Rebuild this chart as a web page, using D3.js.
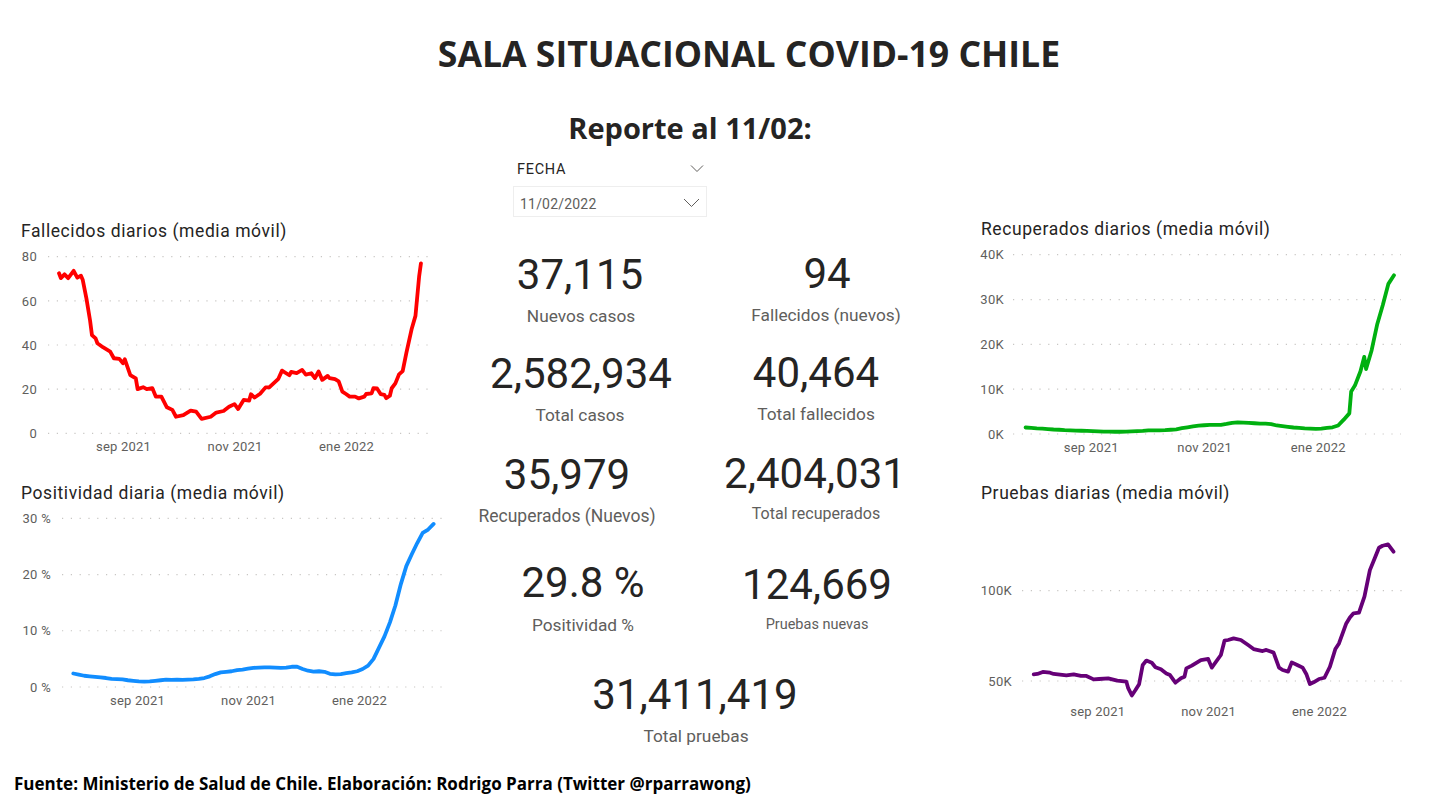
<!DOCTYPE html>
<html>
<head>
<meta charset="utf-8">
<style>
  html, body { margin: 0; background: #fff; }
  svg { display: block; }
  text { font-family: Roboto, sans-serif; }
</style>
<script src="https://cdn.jsdelivr.net/npm/d3@7"></script>
</head>
<body>
<div id="chart"></div>
<script>
// days since the first date of the series
const startDate = new Date(2021, 6, 28);
const dias = d3.range(0, 199, 3);
const monthTicks = [new Date(2021, 8, 1), new Date(2021, 10, 1), new Date(2022, 0, 1)];
const monthLabels = ["sep 2021", "nov 2021", "ene 2022"];

// jagged series keep their own (irregular) days
const diasFallecidos = [0, 1, 3, 5, 8, 10, 12, 13, 15, 17, 18, 20, 21, 24, 28, 30, 33, 35, 36, 39,
  42, 43, 46, 48, 51, 53, 56, 59, 62, 64, 68, 72, 75, 78, 83, 86, 90, 93, 96, 98,
  101, 104, 105, 107, 110, 113, 115, 120, 122, 126, 127, 130, 133, 135, 138, 140, 142, 144, 147, 148,
  151, 153, 155, 157, 159, 162, 164, 167, 168, 171, 172, 174, 176, 178, 179, 181, 182, 184, 186, 188,
  190, 193, 195, 197, 198];
const fallecidos = [72.5, 70.3, 72, 70.3, 73.6, 70.5, 71.4, 69.4, 61, 51, 44.5, 43, 40.8, 39, 37, 34, 33.7, 31.7, 33.5, 26.4,
  24.9, 20, 20.9, 20, 20.5, 16.6, 16.6, 11.8, 10.6, 7.5, 8.2, 10.3, 9.8, 6.5, 7.5, 9.4, 10.1, 12, 13.2, 11,
  15.1, 14.8, 17.7, 16.2, 17.9, 20.8, 20.8, 24.7, 28.4, 26.3, 27.8, 27.3, 28.7, 26.6, 27.2, 25, 28, 24.2, 26, 25,
  24.5, 23.5, 18.9, 17.8, 16.6, 16.6, 15.8, 16.6, 17.8, 18.1, 20.4, 20.3, 17.7, 17.4, 15.9, 17, 20.4, 22.6, 26.7, 28.2,
  36.3, 47.5, 53.2, 71, 77];

const positividad = [2.4, 2.2, 2, 1.9, 1.8, 1.7, 1.6, 1.45, 1.4, 1.35, 1.2, 1.1, 1, 0.95, 1, 1.1, 1.2, 1.3, 1.25, 1.3,
  1.25, 1.3, 1.35, 1.45, 1.6, 1.9, 2.3, 2.6, 2.7, 2.8, 3, 3.1, 3.25, 3.4, 3.45, 3.5, 3.5, 3.45, 3.4, 3.45,
  3.6, 3.6, 3.2, 2.9, 2.75, 2.8, 2.7, 2.35, 2.25, 2.3, 2.45, 2.6, 2.8, 3.2, 3.8, 5, 7, 9, 11.5, 14.5,
  18.3, 21.5, 23.6, 25.6, 27.4, 28, 29];

const diasRecuperados = d3.range(0, 175, 3).concat([175, 177, 180, 182, 183, 186, 189, 192, 195, 198]);
const recuperados = [1.45, 1.35, 1.25, 1.2, 1.1, 1, 0.95, 0.85, 0.8, 0.75, 0.72, 0.7, 0.65, 0.6, 0.55, 0.55, 0.5, 0.5, 0.55, 0.6,
  0.65, 0.7, 0.8, 0.8, 0.8, 0.85, 0.95, 1.05, 1.3, 1.5, 1.7, 1.85, 1.95, 2.05, 2.05, 2.05, 2.25, 2.5, 2.6, 2.55,
  2.5, 2.4, 2.3, 2.3, 2.2, 1.9, 1.75, 1.6, 1.45, 1.35, 1.25, 1.2, 1.15, 1.2, 1.35, 1.5, 1.9, 3.2, 4.6,
  9.5, 10.8, 14, 17.2, 14.5, 18.7, 24.5, 28.8, 33.5, 35.4].map(k => k * 1000);

const diasPruebas = [0, 2, 5, 9, 11, 18, 22, 26, 29, 33, 36, 41, 46, 51, 52, 54, 56, 58, 60, 62,
  65, 67, 70, 73, 75, 78, 81, 83, 84, 87, 92, 96, 98, 103, 105, 107, 110, 114, 118, 121,
  126, 128, 132, 135, 137, 140, 142, 145, 148, 150, 152, 154, 157, 160, 163, 166, 168, 172, 174, 176,
  179, 182, 185, 188, 190, 192, 195, 198];
const pruebas = [53.7, 53.9, 55, 54.6, 53.9, 53.1, 53.7, 52.8, 52.8, 50.9, 51.1, 51.5, 50.2, 49.6, 46, 42, 45, 48.2, 58.9, 61.3,
  60.1, 57.6, 56.5, 54.2, 53.3, 49.1, 51.5, 52.4, 57, 58.5, 61.6, 62.2, 57.4, 64.4, 72.3, 72.7, 73.6, 72.7, 69.9, 67.7,
  66.6, 67.2, 65.7, 57.4, 56.1, 55.2, 60.3, 58.9, 57.4, 53.9, 48.3, 49.3, 51.1, 51.8, 57.9, 67.7, 70.8, 81.9, 85.2, 87.5,
  87.8, 96.7, 111.4, 118.8, 123.8, 124.9, 125.6, 121.6].map(k => k * 1000);

const kpiValues = ["37,115", "94", "2,582,934", "40,464", "35,979", "2,404,031", "29.8 %", "124,669", "31,411,419"];
const kpiLabels = ["Nuevos casos", "Fallecidos (nuevos)", "Total casos", "Total fallecidos", "Recuperados (Nuevos)",
  "Total recuperados", "Positividad %", "Pruebas nuevas", "Total pruebas"];

const width = 1432, height = 801;
const svg = d3.select("#chart").append("svg").attr("width", width).attr("height", height);

function drawPanel(p) {
  const g = svg.append("g");
  const x = d3.scaleTime().domain([monthTicks[0], monthTicks[2]]).range(p.xRange);
  const y = d3.scaleLinear().domain(p.yDomain).range(p.yRange);

  g.append("text").attr("x", p.titleX).attr("y", p.titleY)
    .attr("font-size", 17.5).attr("fill", "#252423").attr("letter-spacing", 0.58)
    .text(p.title);

  // dotted gridlines
  g.selectAll("line.grid").data(p.ticks).join("line")
    .attr("x1", p.gridX[0]).attr("x2", p.gridX[1])
    .attr("y1", d => y(d)).attr("y2", d => y(d))
    .attr("stroke", "#c8c6c4").attr("stroke-width", 1.2)
    .attr("stroke-dasharray", "1.2 7.6");

  const yAxis = d3.axisLeft(y).tickValues(p.ticks).tickFormat(p.format).tickSize(0).tickPadding(0);
  g.append("g").attr("transform", `translate(${p.labelX},0)`).call(yAxis)
    .call(a => a.select(".domain").remove())
    .selectAll("text").attr("font-size", 13).attr("fill", "#605e5c").attr("letter-spacing", 0.3);

  const xAxis = d3.axisBottom(x).tickValues(monthTicks).tickFormat((d, i) => monthLabels[i]).tickSize(0).tickPadding(0);
  g.append("g").attr("transform", `translate(0,${p.axisY})`).call(xAxis)
    .call(a => a.select(".domain").remove())
    .selectAll("text").attr("font-size", 13).attr("fill", "#605e5c").attr("letter-spacing", 0.2);

  const line = d3.line()
    .x((d, i) => x(d3.timeDay.offset(startDate, p.days[i])))
    .y(d => y(d));
  g.append("path").datum(p.values)
    .attr("d", line).attr("fill", "none")
    .attr("stroke", p.color).attr("stroke-width", 3.8)
    .attr("stroke-linejoin", "round").attr("stroke-linecap", "round");
}

const fmtK = d => (d / 1000) + "K";

drawPanel({ title: "Fallecidos diarios (media móvil)", titleX: 21, titleY: 237, values: fallecidos, days: diasFallecidos, color: "#ff0000",
  xRange: [123, 346], yDomain: [0, 80], yRange: [433.3, 256.7], ticks: [0, 20, 40, 60, 80], format: d => d,
  gridX: [48, 428], labelX: 37, axisY: 441.5 });
drawPanel({ title: "Positividad diaria (media móvil)", titleX: 21, titleY: 499, values: positividad, days: dias, color: "#118dff",
  xRange: [137, 359], yDomain: [0, 30], yRange: [687, 518.3], ticks: [0, 10, 20, 30], format: d => d + " %",
  gridX: [62, 442], labelX: 51, axisY: 695.5 });
drawPanel({ title: "Recuperados diarios (media móvil)", titleX: 981, titleY: 235, values: recuperados, days: diasRecuperados, color: "#00b010",
  xRange: [1090.7, 1317.7], yDomain: [0, 40000], yRange: [434, 254.7], ticks: [0, 10000, 20000, 30000, 40000], format: fmtK,
  gridX: [1013, 1401], labelX: 1004, axisY: 442.5 });
drawPanel({ title: "Pruebas diarias (media móvil)", titleX: 981, titleY: 499, values: pruebas, days: diasPruebas, color: "#660077",
  xRange: [1097.3, 1319], yDomain: [50000, 100000], yRange: [681, 590.7], ticks: [50000, 100000], format: fmtK,
  gridX: [1022, 1402], labelX: 1012, axisY: 706.5 });

// headline
svg.append("text").attr("x", 749).attr("y", 67).attr("text-anchor", "middle")
  .style("font-family", "'Open Sans', sans-serif").attr("font-weight", 700).attr("font-size", 35.6).attr("fill", "#252423")
  .text("SALA SITUACIONAL COVID-19 CHILE");
svg.append("text").attr("x", 690).attr("y", 139).attr("text-anchor", "middle")
  .style("font-family", "'Open Sans', sans-serif").attr("font-weight", 700).attr("font-size", 29).attr("fill", "#252423")
  .text("Reporte al 11/02:");

// date slicer
svg.append("text").attr("x", 517).attr("y", 174).attr("font-size", 14.5).attr("letter-spacing", 0.7).attr("fill", "#252423").text("FECHA");
svg.append("rect").attr("x", 513.5).attr("y", 186.5).attr("width", 193).attr("height", 30)
  .attr("fill", "#fff").attr("stroke", "#eeeeee");
svg.append("text").attr("x", 520).attr("y", 208.5).attr("font-size", 14).attr("letter-spacing", 0.2).attr("fill", "#605e5c").text("11/02/2022");
[[691, 165.5, 6], [684, 199, 7.5]].forEach(([cx, cy, w]) => {
  svg.append("path").attr("d", d3.line()([[cx, cy], [cx + w, cy + w], [cx + 2 * w, cy]]))
    .attr("fill", "none").attr("stroke", "#605e5c").attr("stroke-width", 1);
});

// KPI cards, same order as kpiValues / kpiLabels
const kpiLayout = [
  { x: 580, y: 289, lx: 581, ly: 322, ls: 17.3 },
  { x: 827, y: 288, lx: 826, ly: 321, ls: 17.3 },
  { x: 581, y: 388, lx: 580, ly: 421, ls: 17.3 },
  { x: 816, y: 387, lx: 816, ly: 420, ls: 17.3 },
  { x: 567, y: 489, lx: 567, ly: 522, ls: 17.5 },
  { x: 815, y: 488, lx: 816, ly: 519, ls: 16 },
  { x: 583, y: 597, lx: 583, ly: 631, ls: 17.3 },
  { x: 817, y: 599, lx: 817, ly: 629, ls: 14.5 },
  { x: 695, y: 709, lx: 696, ly: 742, ls: 17.3 }
];
const kpi = svg.append("g").selectAll("g").data(kpiLayout).join("g");
kpi.append("text").attr("x", d => d.x).attr("y", d => d.y).attr("text-anchor", "middle")
  .attr("font-size", 42).attr("fill", "#252423").text((d, i) => kpiValues[i]);
kpi.append("text").attr("x", d => d.lx).attr("y", d => d.ly).attr("text-anchor", "middle")
  .attr("font-size", d => d.ls).attr("fill", "#605e5c").text((d, i) => kpiLabels[i]);

// footer
svg.append("text").attr("x", 14).attr("y", 790)
  .style("font-family", "'Open Sans', sans-serif").attr("font-weight", 700).attr("font-size", 17).attr("fill", "#000")
  .text("Fuente: Ministerio de Salud de Chile. Elaboración: Rodrigo Parra (Twitter @rparrawong)");
</script>
</body>
</html>
